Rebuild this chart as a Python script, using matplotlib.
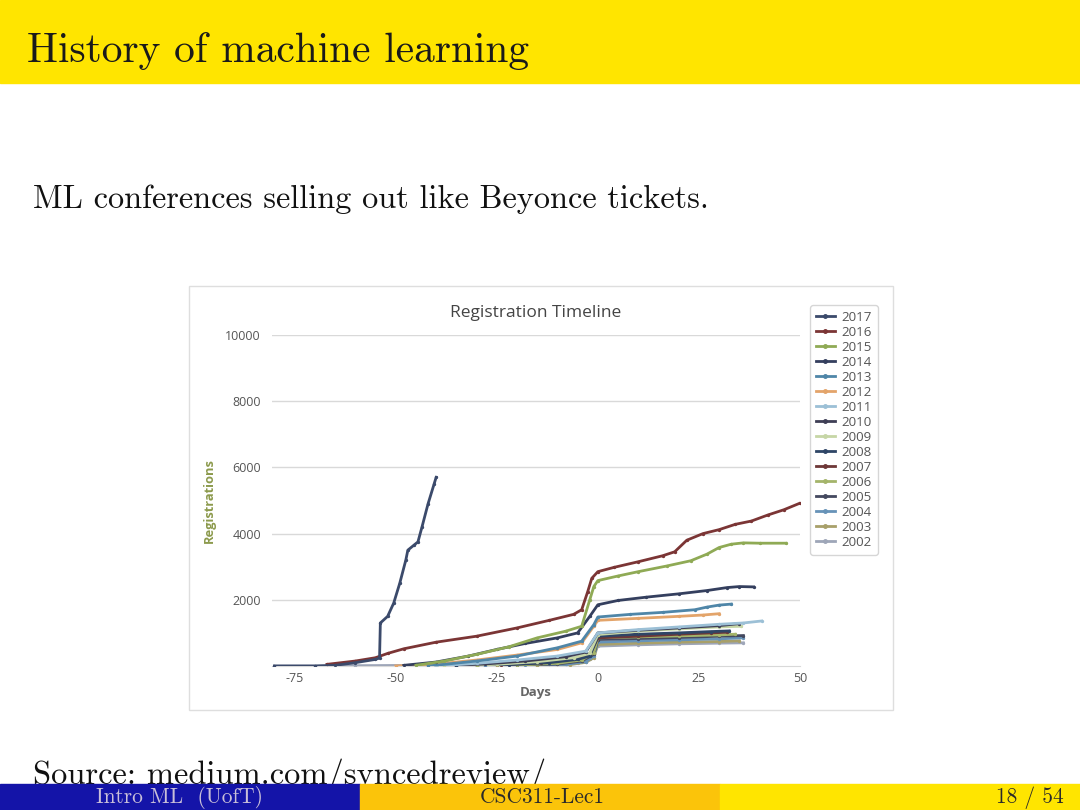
'''Slide: History of machine learning - registration timeline chart'''
import matplotlib
matplotlib.use('Agg')
import matplotlib.pyplot as plt
from matplotlib.patches import Rectangle

plt.rcParams['axes.unicode_minus'] = False

# registrations per year, (days relative to conference, count)
days_2017 = [-80, -70, -65, -60, -55, -54, -53.8, -52, -50.5, -49, -47.5, -47, -45.5, -44.5, -43.5, -42, -40.5, -40]
regs_2017 = [0, 0, 20, 100, 200, 240, 1300, 1500, 1900, 2500, 3200, 3500, 3650, 3750, 4200, 4900, 5500, 5700]
days_2016 = [-67, -60, -55, -52, -48, -40, -30, -20, -12, -6, -4, -2.5, -1.5, 0, 4, 10, 16, 19, 22, 26, 30, 34, 38, 42, 46, 50]
regs_2016 = [50, 150, 250, 380, 520, 720, 900, 1150, 1380, 1560, 1700, 2250, 2650, 2850, 2980, 3150, 3330, 3450, 3800, 4000, 4120, 4280, 4380, 4560, 4720, 4920]
days_2015 = [-45, -38, -30, -22, -15, -8, -4, -2, -1, 0, 5, 10, 17, 23, 27, 30, 33, 36, 40, 46.5]
regs_2015 = [20, 150, 350, 580, 850, 1050, 1200, 2000, 2400, 2580, 2720, 2850, 3020, 3180, 3380, 3580, 3680, 3720, 3710, 3710]
days_2014 = [-48, -40, -32, -25, -18, -10, -5, -2, 0, 5, 12, 20, 27, 32, 35, 38.5]
regs_2014 = [20, 120, 300, 500, 680, 850, 1000, 1500, 1850, 1980, 2080, 2180, 2280, 2370, 2400, 2390]
days_2013 = [-42, -30, -20, -10, -4, -1, 0, 8, 16, 24, 27, 30, 33]
regs_2013 = [0, 150, 300, 550, 750, 1250, 1480, 1560, 1620, 1700, 1780, 1840, 1870]
days_2012 = [-50, -40, -30, -20, -10, -4, -1, 0, 10, 20, 26, 30]
regs_2012 = [0, 60, 180, 330, 500, 700, 1200, 1380, 1440, 1500, 1540, 1580]
days_2011 = [-40, -30, -20, -10, -3, 0, 10, 20, 30, 36, 40.5]
regs_2011 = [0, 80, 180, 300, 450, 1000, 1100, 1180, 1260, 1300, 1360]
days_2010 = [-40, -28, -18, -8, -3, 0, 10, 20, 30, 35]
regs_2010 = [0, 60, 150, 280, 420, 1000, 1080, 1150, 1220, 1280]
days_2009 = [-38, -25, -15, -6, -2, 0, 10, 20, 30, 35.5]
regs_2009 = [0, 50, 130, 250, 380, 950, 1050, 1120, 1180, 1200]
days_2008 = [-35, -22, -12, -5, -2, 0, 10, 20, 28, 32.5]
regs_2008 = [0, 40, 100, 200, 300, 900, 960, 1000, 1040, 1060]
days_2007 = [-35, -24, -14, -6, -2, 0, 10, 20, 28, 32]
regs_2007 = [0, 40, 100, 220, 350, 850, 900, 960, 1000, 1020]
days_2006 = [-30, -20, -10, -4, -1, 0, 10, 20, 30, 34]
regs_2006 = [0, 30, 80, 180, 400, 850, 880, 910, 940, 960]
days_2005 = [-30, -20, -10, -4, -1, 0, 10, 20, 30, 36]
regs_2005 = [0, 20, 60, 150, 350, 800, 830, 860, 900, 920]
days_2004 = [-28, -18, -8, -3, -1, 0, 10, 20, 30, 36]
regs_2004 = [0, 20, 50, 130, 300, 720, 760, 790, 820, 850]
days_2003 = [-25, -15, -7, -3, -1, 0, 10, 20, 30, 35]
regs_2003 = [0, 15, 40, 110, 250, 650, 690, 720, 740, 760]
days_2002 = [-80, -70, -60, -45, -25, -12, -5, -2, 0, 10, 20, 30, 36]
regs_2002 = [0, 0, 10, 20, 30, 50, 100, 200, 600, 640, 670, 690, 700]

years = ['2017', '2016', '2015', '2014', '2013', '2012', '2011', '2010',
         '2009', '2008', '2007', '2006', '2005', '2004', '2003', '2002']
series = [(days_2017, regs_2017), (days_2016, regs_2016), (days_2015, regs_2015),
          (days_2014, regs_2014), (days_2013, regs_2013), (days_2012, regs_2012),
          (days_2011, regs_2011), (days_2010, regs_2010), (days_2009, regs_2009),
          (days_2008, regs_2008), (days_2007, regs_2007), (days_2006, regs_2006),
          (days_2005, regs_2005), (days_2004, regs_2004), (days_2003, regs_2003),
          (days_2002, regs_2002)]
colors = ['#3b4a6b', '#7b3535', '#8faa55', '#343f5e', '#4f86a8', '#e3a46a',
          '#9cc0d6', '#3e3e55', '#c6d6a6', '#2e4566', '#6e3838', '#a4b46a',
          '#44495f', '#6793b8', '#a8a06a', '#9ea6b8']

W, H = 1080, 810
fig = plt.figure(figsize=(W / 100, H / 100), dpi=100)

# slide background layer in pixel coordinates
bg = fig.add_axes([0, 0, 1, 1])
bg.set_xlim(0, W)
bg.set_ylim(H, 0)
bg.axis('off')

serif = ['cmr10', 'DejaVu Serif']
bg.add_patch(Rectangle((0, 0), W, 83, color='#ffe500', zorder=1))
bg.text(27, 62, 'History of machine learning', family=serif, fontsize=29.8,
        color='#1a1a1a', va='baseline', ha='left', zorder=3)
bg.text(33, 208, 'ML conferences selling out like Beyonce tickets.', family=serif,
        fontsize=23.3, color='#111111', va='baseline', ha='left', zorder=3)
# source line sits partly under the footer bar, as on the slide
bg.text(33, 784, 'Source: medium.com/syncedreview/', family=serif,
        fontsize=23.4, color='#111111', va='baseline', ha='left', zorder=1)

bg.add_patch(Rectangle((0, 784), 360, 26, color='#1414a8', zorder=2))
bg.add_patch(Rectangle((360, 784), 360, 26, color='#fbc40a', zorder=2))
bg.add_patch(Rectangle((720, 784), 360, 26, color='#ffe500', zorder=2))
bg.text(180, 803, 'Intro ML  (UofT)', family=serif, fontsize=15.4, color='#c9bfd9',
        ha='center', va='baseline', zorder=3)
bg.text(542, 803, 'CSC311-Lec1', family=serif, fontsize=15.4, color='#2a2a2a',
        ha='center', va='baseline', zorder=3)
bg.text(1064, 803, '18 / 54', family=serif, fontsize=15.4, color='#2a2a2a',
        ha='right', va='baseline', zorder=3)

# frame of the embedded chart picture
bg.add_patch(Rectangle((189, 286), 704, 424, fill=False, edgecolor='#dedede',
                       linewidth=1, zorder=1))

# the chart itself
sans = ['Open Sans', 'DejaVu Sans']
ax = fig.add_axes([272 / W, 1 - 666 / H, 528 / W, 331 / H])
ax.patch.set_alpha(0)
for i, (d, r) in enumerate(series):
    ax.plot(d, r, color=colors[i], linewidth=2, marker='o', markersize=1.4,
            label=years[i], zorder=20 - i)

ax.set_xlim(-80.6, 50)
ax.set_ylim(0, 10000)
ax.set_xticks([-75, -50, -25, 0, 25, 50])
ax.set_yticks([2000, 4000, 6000, 8000, 10000])
ax.grid(axis='y', color='#d9d9d9', linewidth=1)
ax.set_axisbelow(True)
for s in ['top', 'right', 'left']:
    ax.spines[s].set_visible(False)
ax.spines['bottom'].set_color('#d9d9d9')
ax.tick_params(length=0, labelsize=9, labelcolor='#555555')
ax.tick_params(axis='x', pad=4)
ax.tick_params(axis='y', pad=8)
for lbl in ax.get_xticklabels() + ax.get_yticklabels():
    lbl.set_family(sans)

ax.set_title('Registration Timeline', family=sans, fontsize=12.5, color='#444444', pad=13)
ax.set_xlabel('Days', family=sans, fontsize=9.5, fontweight='bold', color='#666666', labelpad=1)
ax.set_ylabel('Registrations', family=sans, fontsize=9.3, fontweight='bold',
              color='#8c9a4c', labelpad=7)

leg = ax.legend(loc='upper left', bbox_to_anchor=(810 / W, 1 - 305 / H),
                bbox_transform=fig.transFigure, labelspacing=0.15,
                handlelength=1.4, handletextpad=0.5, borderpad=0.45, borderaxespad=0,
                frameon=True, fancybox=True, edgecolor='#cccccc', markerscale=1.8,
                prop={'family': sans, 'size': 9.6})
for t in leg.get_texts():
    t.set_color('#555555')

fig.savefig('out.png', dpi=100)
